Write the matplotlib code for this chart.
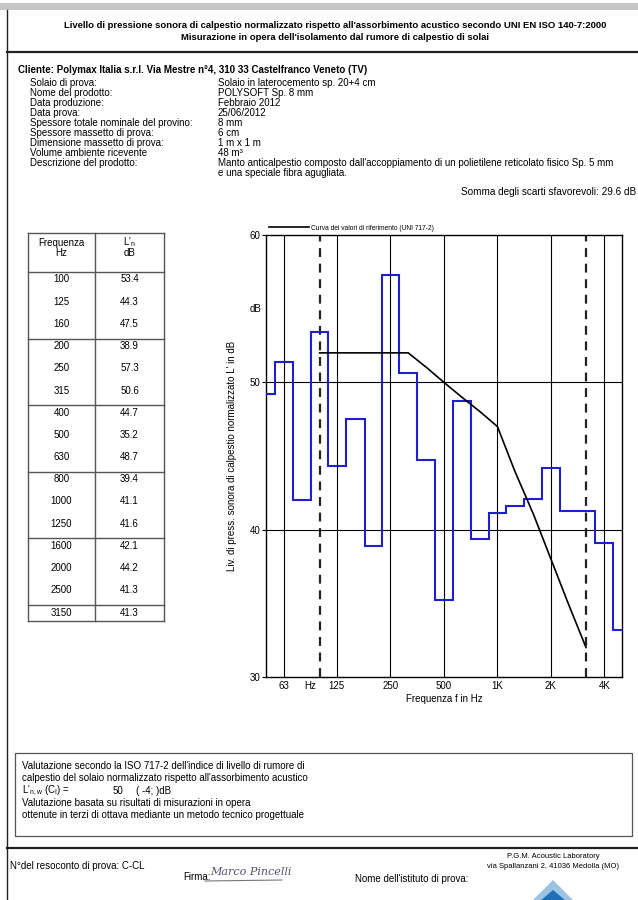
import numpy as np
import matplotlib
matplotlib.use('Agg')
import matplotlib.pyplot as plt
from matplotlib.lines import Line2D
from matplotlib.patches import Rectangle, Polygon

# Dati misurati (terzi di ottava)
freq_bande = [50, 63, 80, 100, 125, 160, 200, 250, 315, 400, 500, 630, 800,
              1000, 1250, 1600, 2000, 2500, 3150, 4000, 5000]
Ln = [49.2, 51.4, 42.0, 53.4, 44.3, 47.5, 38.9, 57.3, 50.6, 44.7, 35.2, 48.7,
      39.4, 41.1, 41.6, 42.1, 44.2, 41.3, 41.3, 39.1, 33.2]

# Curva di riferimento UNI 717-2 (spostata)
freq_rif = [100, 125, 160, 200, 250, 315, 400, 500, 630, 800, 1000, 1250,
            1600, 2000, 2500, 3150]
val_rif = [52, 52, 52, 52, 52, 52, 51, 50, 49, 48, 47, 44, 41, 38, 35, 32]

# Tabella (100 - 3150 Hz)
freq_tab = freq_bande[3:19]
Ln_tab = Ln[3:19]

# Assi
xtick_freq = [63, 125, 250, 500, 1000, 2000, 4000]
xtick_lab = ['63', '125', '250', '500', '1K', '2K', '4K']
ytick_val = [30, 40, 50, 60]
limiti_dashed = [100, 3150]

etichette = ['Solaio di prova:', 'Nome del prodotto:', 'Data produzione:', 'Data prova:',
             'Spessore totale nominale del provino:', 'Spessore massetto di prova:',
             'Dimensione massetto di prova:', 'Volume ambiente ricevente',
             'Descrizione del prodotto:']
valori = ['Solaio in laterocemento sp. 20+4 cm', 'POLYSOFT Sp. 8 mm', 'Febbraio 2012',
          '25/06/2012', '8 mm', '6 cm', '1 m x 1 m', '48 m\u00b3',
          "Manto anticalpestio composto dall'accoppiamento di un polietilene reticolato fisico Sp. 5 mm"]

plt.rcParams['font.family'] = ['Liberation Sans Narrow', 'Liberation Sans', 'DejaVu Sans']
plt.rcParams['mathtext.fontset'] = 'custom'
plt.rcParams['mathtext.rm'] = 'Liberation Sans'
plt.rcParams['mathtext.it'] = 'Liberation Sans'

W, H = 638, 900
fig = plt.figure(figsize=(6.38, 9.0), dpi=100)


def fx(x):
    return x / W


def fy(y):
    return 1 - y / H


def txt(x, y, s, size=7, **kw):
    kw.setdefault('va', 'center')
    fig.text(fx(x), fy(y), s, fontsize=size, **kw)


def linea(x0, x1, y0, y1, **kw):
    fig.add_artist(Line2D([fx(x0), fx(x1)], [fy(y0), fy(y1)], transform=fig.transFigure, **kw))


# Cornice pagina
fig.add_artist(Rectangle((0, fy(10)), 1, fy(3) - fy(10), transform=fig.transFigure,
                         color='#c6c6c6', lw=0))
linea(7, 7, 10, 900, color='#222222', lw=1.0)
linea(7, 638, 52, 52, color='#222222', lw=1.6)
linea(7, 638, 848, 848, color='#222222', lw=1.6)

# Titolo
txt(335, 26, "Livello di pressione sonora di calpestio normalizzato rispetto all'assorbimento acustico secondo UNI EN ISO 140-7:2000",
    size=6.8, ha='center', weight='bold')
txt(335, 37, "Misurazione in opera dell'isolamento dal rumore di calpestio di solai",
    size=6.8, ha='center', weight='bold')

txt(18, 70, "Cliente: Polymax Italia s.r.l. Via Mestre n\u00b04, 310 33 Castelfranco Veneto (TV)",
    size=7, weight='bold')
for i, (e, v) in enumerate(zip(etichette, valori)):
    y = 83.5 + i * 10
    txt(30, y, e)
    txt(218, y, v)
txt(218, 173.5, 'e una speciale fibra agugliata.')
txt(636, 192, 'Somma degli scarti sfavorevoli: 29.6 dB', ha='right', size=7.2)

# Tabella
tx0, tx1, tx2 = 28, 95, 164
ty0, tyh, tyb = 233, 272, 621
grig = '#555555'
linea(tx0, tx2, ty0, ty0, color=grig, lw=1)
linea(tx0, tx2, tyh, tyh, color=grig, lw=1)
linea(tx0, tx2, tyb, tyb, color=grig, lw=1)
for x in (tx0, tx1, tx2):
    linea(x, x, ty0, tyb, color=grig, lw=1)
txt((tx0 + tx1) / 2, 243, 'Frequenza', ha='center')
txt((tx0 + tx1) / 2, 253, 'Hz', ha='center')
txt((tx1 + tx2) / 2, 242, r"L'$_{\mathrm{n}}$", ha='center')
txt((tx1 + tx2) / 2, 253, 'dB', ha='center')
for i, (f, v) in enumerate(zip(freq_tab, Ln_tab)):
    g, k = divmod(i, 3)
    top = tyh + g * 66.6
    if k == 0 and g > 0:
        linea(tx0, tx2, top, top, color=grig, lw=1)
    y = top + 7.5 + k * 22.2
    txt((tx0 + tx1) / 2, y, str(f), ha='center')
    txt((tx1 + tx2) / 2, y, '%.1f' % v, ha='center')

# Grafico
ax = fig.add_axes([fx(266), fy(677), fx(621.7) - fx(266), fy(235) - fy(677)])
ax.set_xscale('log')
ax.set_xlim(50 / 2 ** (1 / 600), 5000)
ax.set_ylim(30, 60)

f = np.array(freq_bande, dtype=float)
bordi = np.concatenate([[f[0] / 2 ** (1 / 6)], np.sqrt(f[:-1] * f[1:]), [f[-1] * 2 ** (1 / 6)]])
ax.stairs(Ln, bordi, baseline=None, color='#1f1fd2', lw=1.5, zorder=4)
ax.plot(freq_rif, val_rif, color='black', lw=1.2, zorder=5,
        label='Curva dei valori di riferimento (UNI 717-2)')

for fv in xtick_freq:
    ax.axvline(fv, color='black', lw=0.8, zorder=1)
for yv in (40, 50):
    ax.axhline(yv, color='black', lw=0.8, zorder=1)
for fv in limiti_dashed:
    ax.axvline(fv, color='#222222', lw=1.6, ls=(0, (4, 3)), zorder=3)

ax.set_xticks(xtick_freq)
ax.set_xticklabels(xtick_lab, fontsize=7)
ax.xaxis.set_minor_locator(matplotlib.ticker.NullLocator())
ax.set_yticks(ytick_val)
ax.set_yticklabels([str(v) for v in ytick_val], fontsize=7)
ax.tick_params(axis='x', length=0, pad=3)
ax.tick_params(axis='y', length=3, pad=1)
ax.text(88.5, -0.0095, 'Hz', fontsize=7, ha='center', va='top', transform=ax.get_xaxis_transform())
ax.text(-0.012, 55, 'dB', fontsize=7, ha='right', va='center', transform=ax.get_yaxis_transform())
ax.set_xlabel('Frequenza f in Hz', fontsize=7, labelpad=2)
ax.set_ylabel("Liv. di press. sonora di calpestio normalizzato L' in dB", fontsize=7, labelpad=9)
for s in ax.spines.values():
    s.set_linewidth(1.0)

ax.legend(loc='lower left', bbox_to_anchor=(0.0, 1.0), frameon=False, fontsize=4.8,
          handlelength=6.0, handletextpad=0.2, borderpad=0, borderaxespad=0.5)

# Riquadro valutazione
fig.add_artist(Rectangle((fx(15), fy(836)), fx(632) - fx(15), fy(753) - fy(836),
                         transform=fig.transFigure, fill=False, ec='#555555', lw=0.9))
txt(22, 766, "Valutazione secondo la ISO 717-2 dell'indice di livello di rumore di")
txt(22, 778, "calpestio del solaio normalizzato rispetto all'assorbimento acustico")
txt(22, 791, r"L'$_{\mathrm{n,w}}$ (C$_{\mathrm{I}}$) =")
txt(113, 791, '50')
txt(136, 791, '( -4; )dB')
txt(22, 803, 'Valutazione basata su risultati di misurazioni in opera')
txt(22, 815, 'ottenute in terzi di ottava mediante un metodo tecnico progettuale')

# Piè di pagina
txt(10, 866, "N\u00b0del resoconto di prova: C-CL")
txt(183, 877, 'Firma:')
txt(210, 872, 'Marco Pincelli', size=8, family='DejaVu Serif', style='italic', color='#555566')
linea(205, 282, 881, 880, color='#777777', lw=0.8)
txt(355, 879, "Nome dell'istituto di prova:")
txt(553, 857, 'P.G.M. Acoustic Laboratory', size=5.5, ha='center')
txt(553, 867, 'via Spallanzani 2, 41036 Medolla (MO)', size=5.5, ha='center')
fig.add_artist(Polygon([[fx(553), fy(880)], [fx(532), fy(901)], [fx(574), fy(901)]],
                       closed=True, transform=fig.transFigure, fc='#9cc3e4', ec='none'))
fig.add_artist(Polygon([[fx(553), fy(890)], [fx(540), fy(901)], [fx(566), fy(901)]],
                       closed=True, transform=fig.transFigure, fc='#1f6fb8', ec='none'))

fig.savefig('out.png', dpi=100)
